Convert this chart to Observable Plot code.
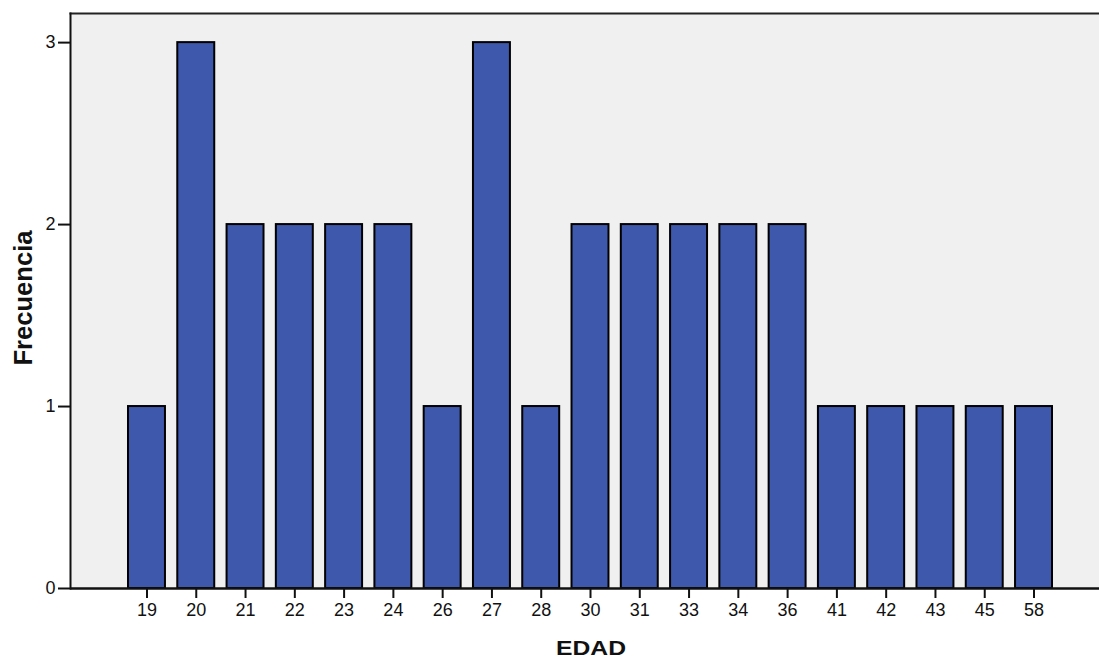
<!DOCTYPE html>
<html>
<head>
<meta charset="utf-8">
<script src="https://cdn.jsdelivr.net/npm/d3@7"></script>
<script src="https://cdn.jsdelivr.net/npm/@observablehq/plot@0.6"></script>
<style>
  html, body { margin: 0; padding: 0; background: #fff; overflow: hidden; }
  #chart svg { display: block; font-family: "Liberation Sans", Arial, sans-serif; }
</style>
</head>
<body>
<div id="chart"></div>
<script>
const edades = ["19","20","21","22","23","24","26","27","28","30","31","33","34","36","41","42","43","45","58"];
const frecuencias = [1,3,2,2,2,2,1,3,1,2,2,2,2,2,1,1,1,1,1];
const yTicks = [0,1,2,3];

const data = edades.map((e, i) => ({edad: e, n: frecuencias[i]}));

const W = 1099, H = 662;
const mL = 70, mT = 13, mB = 74;

const chart = Plot.plot({
  width: W,
  height: H,
  marginLeft: mL,
  marginRight: 0,
  marginTop: mT,
  marginBottom: mB,
  style: {fontFamily: '"Liberation Sans", Arial, sans-serif', background: "#fff", overflow: "visible"},
  x: {type: "band", domain: edades, range: [mL, 1110], paddingInner: 0.25, paddingOuter: 1.177, align: 0.5, round: false},
  y: {domain: [0, 3.16]},
  marks: [
    Plot.frame({fill: "#f0f0f0", stroke: null}),
    Plot.barY(data, {x: "edad", y: "n", fill: "#3e58ac", stroke: "#000", strokeWidth: 2}),
    Plot.frame({anchor: "top", stroke: "#222", strokeWidth: 2}),
    Plot.frame({anchor: "left", stroke: "#111", strokeWidth: 2}),
    Plot.ruleY([0], {stroke: "#111", strokeWidth: 2.5}),
    Plot.axisY({ticks: yTicks, tickFormat: d => d, tickSize: 12, tickPadding: 3, fontSize: 18, label: null, stroke: "#111", strokeWidth: 2, color: "#111"}),
    Plot.axisX({tickSize: 10, tickPadding: 5, fontSize: 18, label: null, stroke: "#111", strokeWidth: 2, color: "#111"}),
    Plot.text(["Frecuencia"], {frameAnchor: "left", textAnchor: "middle", dx: -47, dy: -3, rotate: -90, fontSize: 26, fontWeight: "bold", fill: "#111", text: d => d}),
    Plot.text(["EDAD"], {frameAnchor: "bottom", textAnchor: "middle", dx: 6, dy: 66, fontSize: 21, fontWeight: "bold", fill: "#111", text: d => d})
  ]
});

d3.select(chart).selectAll("text").each(function() {
  const t = d3.select(this);
  if (t.text() === "EDAD") t.attr("textLength", 70).attr("lengthAdjust", "spacingAndGlyphs");
  if (t.text() === "Frecuencia") t.attr("textLength", 135).attr("lengthAdjust", "spacingAndGlyphs");
});

document.getElementById("chart").appendChild(chart);
</script>
</body>
</html>
